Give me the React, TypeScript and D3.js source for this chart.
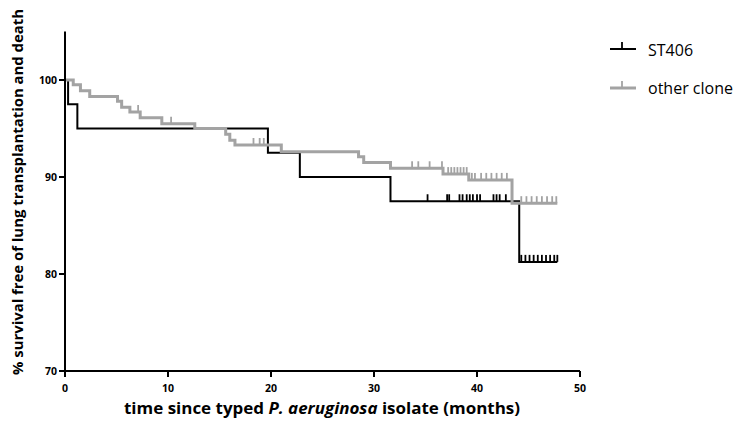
import React from 'react';
import * as d3 from 'd3';

// ST406 Kaplan-Meier steps (months, % survival)
const st406Times = [0, 0.3, 1.2, 19.7, 22.8, 31.6, 44.1];
const st406Surv = [100, 97.5, 95, 92.5, 90, 87.5, 81.25];
const st406End = 47.8;
const st406Censored = [35.2, 37.1, 37.3, 38.3, 38.6, 39.0, 39.3, 39.6, 40.0, 40.3, 41.6, 41.9, 42.2, 42.8,
  44.3, 44.7, 45.1, 45.5, 45.9, 46.3, 46.7, 47.1, 47.5, 47.8];

// other clone
const otherTimes = [0, 0.8, 1.5, 2.4, 5.1, 5.5, 6.3, 7.3, 9.4, 12.6, 15.6, 16.0, 16.5, 21.0, 28.5, 29.0, 31.6, 36.7, 39.2, 43.4];
const otherSurv = [100, 99.5, 98.9, 98.3, 97.8, 97.2, 96.7, 96.1, 95.5, 95.0, 94.4, 93.8, 93.3, 92.6, 92.1, 91.5, 90.9, 90.3, 89.7, 87.3];
const otherEnd = 47.8;
const otherCensored = [7.1, 10.3, 18.3, 18.9, 19.3, 33.7, 34.3, 35.4, 36.6, 37.2, 37.5, 37.8, 38.1, 38.4, 38.7, 39.0,
  39.5, 39.8, 40.4, 40.9, 41.4, 41.9, 42.4, 42.9, 44.3, 44.8, 45.3, 45.8, 46.3, 46.8, 47.3, 47.7];

const xTicks = [0, 10, 20, 30, 40, 50];
const yTicks = [70, 80, 90, 100];
const seriesNames = ['ST406', 'other clone'];

const width = 743;
const height = 422;
const font = "'Open Sans', 'Noto Sans', sans-serif";

const x = d3.scaleLinear().domain([0, 50]).range([65, 580]);
const y = d3.scaleLinear().domain([70, 105]).range([371, 31.5]);

function survAt(times: number[], surv: number[], t: number) {
  let v = surv[0];
  for (let i = 0; i < times.length; i++) {
    if (times[i] <= t) v = surv[i];
  }
  return v;
}

function stepPath(times: number[], surv: number[], end: number) {
  const pts: [number, number][] = times.map((t, i) => [t, surv[i]]);
  pts.push([end, surv[surv.length - 1]]);
  return d3.line<[number, number]>()
    .x(d => x(d[0]))
    .y(d => y(d[1]))
    .curve(d3.curveStepAfter)(pts) || '';
}

function Curve(props: { times: number[], surv: number[], end: number, censored: number[], color: string, w: number }) {
  const { times, surv, end, censored, color, w } = props;
  return (
    <g>
      <path d={stepPath(times, surv, end)} fill="none" stroke={color} strokeWidth={w} />
      {censored.map((t, i) => {
        const v = survAt(times, surv, t);
        return <line key={i} x1={x(t)} x2={x(t)} y1={y(v)} y2={y(v) - 7} stroke={color} strokeWidth={1.8} />;
      })}
    </g>
  );
}

export default function App() {
  const black = '#000000';
  const gray = '#a3a3a3';
  return (
    <svg width={width} height={height} style={{ position: 'absolute', left: 0, top: 0, background: '#fff' }}>
      {/* curves */}
      <Curve times={st406Times} surv={st406Surv} end={st406End} censored={st406Censored} color={black} w={2} />
      <Curve times={otherTimes} surv={otherSurv} end={otherEnd} censored={otherCensored} color={gray} w={3} />

      {/* y axis */}
      <line x1={x(0)} x2={x(0)} y1={y(105)} y2={y(70) + 1} stroke="#000" strokeWidth={2} />
      {yTicks.map(t => (
        <g key={t}>
          <line x1={x(0) - 6} x2={x(0)} y1={y(t)} y2={y(t)} stroke="#000" strokeWidth={2} />
          <text x={x(0) - 8} y={y(t)} dy="0.35em" textAnchor="end" fontFamily={font} fontWeight="bold" fontSize={10.5}>{t}</text>
        </g>
      ))}

      {/* x axis */}
      <line x1={x(0) - 1} x2={x(50)} y1={y(70)} y2={y(70)} stroke="#000" strokeWidth={2} />
      {xTicks.map(t => (
        <g key={t}>
          <line x1={x(t)} x2={x(t)} y1={y(70)} y2={y(70) + 6} stroke="#000" strokeWidth={2} />
          <text x={x(t)} y={392} textAnchor="middle" fontFamily={font} fontWeight="bold" fontSize={10.5}>{t}</text>
        </g>
      ))}

      {/* axis titles */}
      <text x={322} y={414} textAnchor="middle" fontFamily={font} fontWeight="bold" fontSize={16}
        textLength={396} lengthAdjust="spacingAndGlyphs">
        time since typed <tspan fontStyle="italic">P. aeruginosa</tspan> isolate (months)
      </text>
      <text transform="translate(23,192) rotate(-90)" textAnchor="middle" fontFamily={font} fontWeight="bold" fontSize={15}
        textLength={366} lengthAdjust="spacingAndGlyphs">
        % survival free of lung transplantation and death
      </text>

      {/* legend */}
      <line x1={610} x2={636} y1={49} y2={49} stroke={black} strokeWidth={2} />
      <line x1={622} x2={622} y1={49} y2={42} stroke={black} strokeWidth={1.8} />
      <text x={648} y={56} fontFamily={font} fontSize={16}>{seriesNames[0]}</text>
      <line x1={610} x2={636} y1={88} y2={88} stroke={gray} strokeWidth={3} />
      <line x1={622} x2={622} y1={88} y2={81} stroke={gray} strokeWidth={1.8} />
      <text x={648} y={94} fontFamily={font} fontSize={16}>{seriesNames[1]}</text>
    </svg>
  );
}
